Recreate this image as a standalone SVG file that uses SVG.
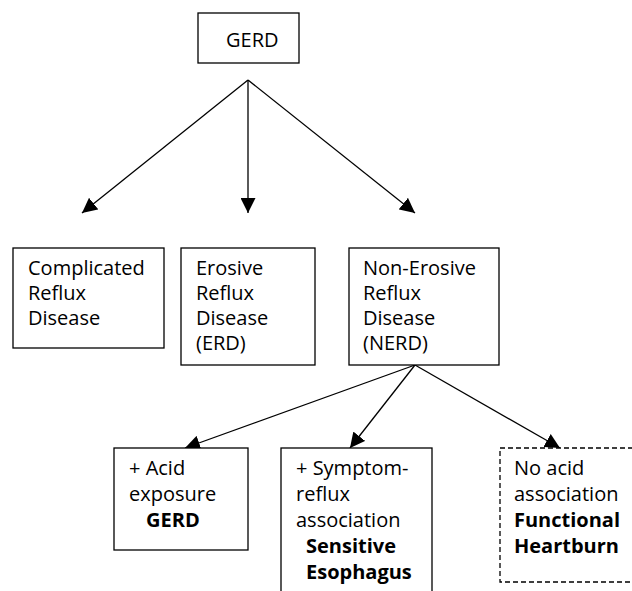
<svg xmlns="http://www.w3.org/2000/svg" width="632" height="591" viewBox="0 0 632 591">
<style>
.box{fill:#fff;stroke:#000;stroke-width:1.3}
.dash{fill:#fff;stroke:#000;stroke-width:1.3;stroke-dasharray:5 3}
.t{font-family:"Open Sans","Noto Sans",sans-serif;font-size:20px;fill:#000}
.b{font-weight:bold}
.c{stroke:#000;stroke-width:1.3;fill:none;marker-end:url(#ah)}
</style>
<defs>
<marker id="ah" viewBox="0 0 10 10" refX="10" refY="5" markerWidth="15" markerHeight="15" markerUnits="userSpaceOnUse" orient="auto">
<path d="M0,0 L10,5 L0,10 z" fill="#000"/>
</marker>
</defs>
<rect width="632" height="591" fill="#fff"/>
<g id="connectors">
<line class="c" x1="248" y1="80" x2="82" y2="213"/>
<line class="c" x1="248" y1="80" x2="248" y2="213"/>
<line class="c" x1="248" y1="80" x2="415" y2="213"/>
<line class="c" x1="415" y1="365" x2="185" y2="448"/>
<line class="c" x1="415" y1="365" x2="350" y2="448"/>
<line class="c" x1="415" y1="365" x2="560" y2="448"/>
</g>
<g id="gerd">
<rect class="box" x="198" y="13" width="101" height="50"/>
<text class="t" x="226" y="47">GERD</text>
</g>
<g id="complicated">
<rect class="box" x="13" y="248" width="151" height="100"/>
<text class="t" x="28" y="275">Complicated</text>
<text class="t" x="28" y="300">Reflux</text>
<text class="t" x="28" y="325">Disease</text>
</g>
<g id="erd">
<rect class="box" x="181" y="248" width="134" height="117"/>
<text class="t" x="196" y="275">Erosive</text>
<text class="t" x="196" y="300">Reflux</text>
<text class="t" x="196" y="325">Disease</text>
<text class="t" x="196" y="350">(ERD)</text>
</g>
<g id="nerd">
<rect class="box" x="349" y="248" width="150" height="117"/>
<text class="t" x="363" y="275">Non-Erosive</text>
<text class="t" x="363" y="300">Reflux</text>
<text class="t" x="363" y="325">Disease</text>
<text class="t" x="363" y="350">(NERD)</text>
</g>
<g id="acid">
<rect class="box" x="114" y="448" width="134" height="102"/>
<text class="t" x="129" y="475">+ Acid</text>
<text class="t" x="129" y="501">exposure</text>
<text class="t b" x="146" y="527">GERD</text>
</g>
<g id="sensitive">
<rect class="box" x="281" y="448" width="151" height="160"/>
<text class="t" x="296" y="475">+ Symptom-</text>
<text class="t" x="296" y="501">reflux</text>
<text class="t" x="296" y="527">association</text>
<text class="t b" x="306" y="553">Sensitive</text>
<text class="t b" x="306" y="579">Esophagus</text>
</g>
<g id="functional">
<rect class="dash" x="500" y="448" width="150" height="134"/>
<text class="t" x="514" y="475">No acid</text>
<text class="t" x="514" y="501">association</text>
<text class="t b" x="514" y="527">Functional</text>
<text class="t b" x="514" y="553">Heartburn</text>
</g>
</svg>
